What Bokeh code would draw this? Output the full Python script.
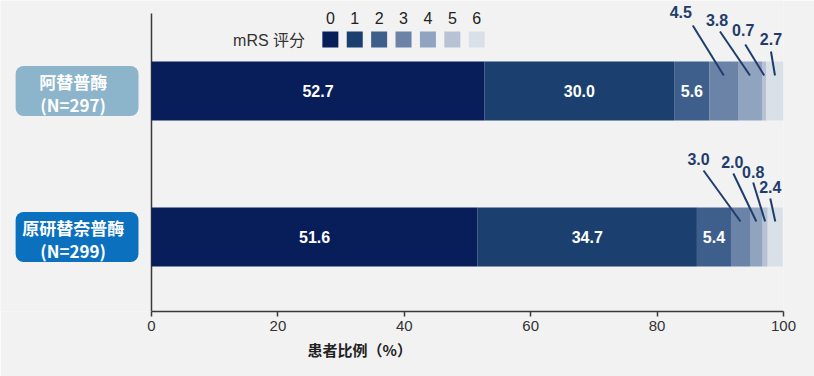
from bokeh.plotting import figure
from bokeh.models import ColumnDataSource, BoxAnnotation, Range1d, FixedTicker, Title
from bokeh.embed import file_html
from bokeh.resources import INLINE
from bokeh.core.properties import value

# ---------------- data ----------------
groups = ["阿替普酶\n(N=297)", "原研替奈普酶\n(N=299)"]
scores = ["0", "1", "2", "3", "4", "5", "6"]
alteplase = [52.7, 30.0, 5.6, 4.5, 3.8, 0.7, 2.7]
tenecteplase = [51.6, 34.7, 5.4, 3.0, 2.0, 0.8, 2.4]
xticks = [0, 20, 40, 60, 80, 100]
x_title = "患者比例（%）"
legend_title = "mRS  评分"

# ---------------- style ----------------
colors = ["#071e5b", "#1b3f6f", "#3e5f8b", "#6a83a6", "#90a3bf", "#b7c3d4", "#dae0e8"]
box_colors = ["#8cb4ca", "#0b71bf"]
label_color = "#1f3d6c"
axis_color = "#3a3a3a"
bg = "#f2f2f2"
row_y = [1, 0]
bar_h = 0.404
PX_X = 6.32   # pixels per x unit
PX_Y = 146.0  # pixels per y unit
inside_n = 3  # segments labelled inside the bar
# leader label offsets in px from segment centre point (dx, up)
lead_label_off = [[(-43, 64), (-33, 56), (-21, 46), (-4, 37)],
                  [(-42, 63), (-24, 60), (-12, 50), (-5, 35)]]
lead_start_off = [[(-31, 50), (-30, 44), (-19, 31), (-4, 24)],
                  [(-37, 51), (-23, 48), (-12, 39), (-5, 23)]]
lead_end_below_top = 14

LAT = "Liberation Sans, Arial, Noto Sans CJK SC"
CJK = "Noto Sans CJK SC"

W, H = 814, 376
y_start, y_end = -0.51, 1 + 90.5 / PX_Y
p = figure(width=W, height=H, output_backend="svg", toolbar_location=None,
           x_range=Range1d(-151 / PX_X, 100), y_range=Range1d(y_start, y_end),
           min_border_left=0, min_border_right=31, min_border_top=0, min_border_bottom=65)
p.background_fill_color = bg
p.border_fill_color = bg
p.outline_line_color = None
p.grid.visible = False
p.yaxis.visible = False

# x axis
xa = p.xaxis[0]
xa.bounds = (0, 100)
xa.ticker = FixedTicker(ticks=xticks)
xa.minor_tick_line_color = None
xa.major_tick_in = 0
xa.major_tick_out = 5
xa.axis_line_color = axis_color
xa.axis_line_width = 1.5
xa.major_tick_line_color = axis_color
xa.major_tick_line_width = 1.5
xa.major_label_text_font = "Liberation Sans Narrow, Liberation Sans"
xa.major_label_text_font_size = "15px"
xa.major_label_text_color = "#333333"
xa.major_label_standoff = 4

# x title (placed under the axis, left-aligned with an offset like the reference)
p.add_layout(Title(text=x_title, align="left", offset=307, standoff=6,
                   text_font=CJK, text_font_style="bold", text_font_size="15px",
                   text_color="#222222"), "below")

# y axis line (starts a little below the top of the frame)
p.segment(x0=[0], y0=[y_start], x1=[0], y1=[y_end - 13 / PX_Y],
          line_color=axis_color, line_width=1.5)

# ---------------- group boxes (underlay) ----------------
for r, g in enumerate(groups):
    p.add_layout(BoxAnnotation(left=-21.5, right=-2.06,
                               bottom=row_y[r] - 25 / PX_Y, top=row_y[r] + 25 / PX_Y,
                               fill_color=box_colors[r], fill_alpha=1.0, line_color=None,
                               border_radius=8, level="underlay"))

# ---------------- bars ----------------
rows = [alteplase, tenecteplase]
starts, ends = [], []
for vals in rows:
    s, e, c = [], [], 0.0
    for v in vals:
        s.append(c)
        c += v
        e.append(c)
    starts.append(s)
    ends.append(e)

for i, sc in enumerate(scores):
    src = ColumnDataSource(dict(y=row_y,
                                left=[starts[r][i] for r in range(2)],
                                right=[ends[r][i] for r in range(2)]))
    p.hbar(y="y", left="left", right="right", height=bar_h, source=src,
           fill_color=colors[i], line_color=None)

# inside labels
in_x, in_y, in_t = [], [], []
for r, vals in enumerate(rows):
    for i in range(inside_n):
        in_x.append((starts[r][i] + ends[r][i]) / 2)
        in_y.append(row_y[r])
        in_t.append(f"{vals[i]:.1f}")
p.text(x=in_x, y=in_y, text=in_t, text_color="white", text_font=value(LAT),
       text_font_style="bold", text_font_size="16px", text_align="center", text_baseline="middle")

# leader labels
lx, ly, lt, x0, y0, x1, y1 = [], [], [], [], [], [], []
for r, vals in enumerate(rows):
    top = row_y[r] + bar_h / 2
    for k, i in enumerate(range(inside_n, len(vals))):
        cx = (starts[r][i] + ends[r][i]) / 2
        cy = top - lead_end_below_top / PX_Y
        ldx, ldy = lead_label_off[r][k]
        sdx, sdy = lead_start_off[r][k]
        lx.append(cx + ldx / PX_X)
        ly.append(cy + ldy / PX_Y)
        lt.append(f"{vals[i]:.1f}")
        x0.append(cx + sdx / PX_X)
        y0.append(cy + sdy / PX_Y)
        x1.append(cx)
        y1.append(cy)
p.segment(x0=x0, y0=y0, x1=x1, y1=y1, line_color=label_color, line_width=2)
p.text(x=lx, y=ly, text=lt, text_color=label_color, text_font=value(LAT), text_font_style="bold",
       text_font_size="16px", text_align="center", text_baseline="middle")

# ---------------- legend ----------------
leg_x0 = 28.3
leg_step = 3.86
leg_y = 1 + (90.5 - 39) / PX_Y
leg_xs = [leg_x0 + i * leg_step for i in range(len(scores))]
p.rect(x=leg_xs, y=[leg_y] * len(scores), width=16, height=16, width_units="screen",
       height_units="screen", fill_color=colors, line_color=None)
p.text(x=leg_xs, y=[leg_y + 22 / PX_Y] * len(scores), text=scores,
       text_color="#222222", text_font=value(LAT), text_font_size="16px",
       text_align="center", text_baseline="middle")
p.text(x=[leg_x0 - 3.3], y=[leg_y - 1 / PX_Y], text=[legend_title], text_color="#333333",
       text_font=value(LAT), text_font_size="16px", text_align="right", text_baseline="middle")

# group texts
p.text(x=[-12.4, -12.4], y=[ry - 2 / PX_Y for ry in row_y], text=groups, text_color="white",
       text_font=value(CJK), text_font_style="bold", text_font_size="17px",
       text_align="center", text_baseline="middle", text_line_height=0.95)

open("out.html", "w").write(file_html(p, INLINE))
